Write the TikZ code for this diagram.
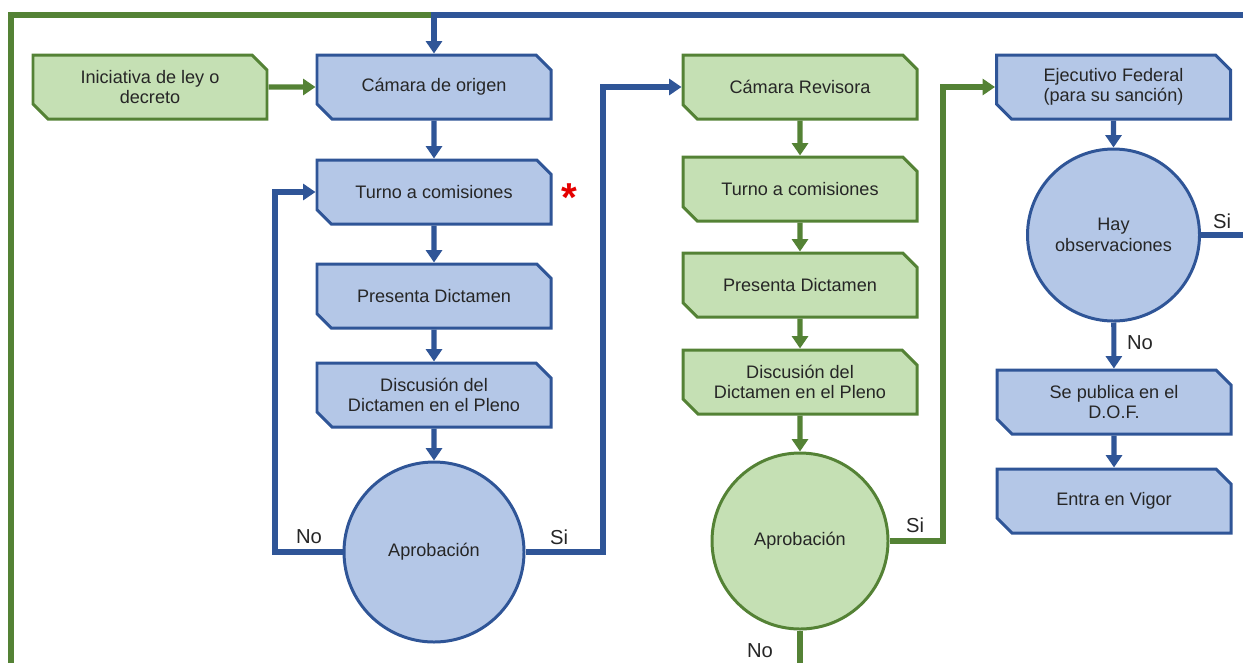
\documentclass[tikz,border=0pt]{standalone}
\usepackage{fontspec}
\setmainfont{Liberation Sans}
\usetikzlibrary{shapes.misc}
\usetikzlibrary{arrows.meta}
\definecolor{bfill}{RGB}{180,199,231}
\definecolor{bdraw}{RGB}{47,85,151}
\definecolor{gfill}{RGB}{197,224,180}
\definecolor{gdraw}{RGB}{84,130,53}
\tikzset{
  txt/.style={font=\fontsize{10.3}{11.6}\selectfont, text=black!85, align=center},
  box/.style={txt, chamfered rectangle, chamfered rectangle corners={north east,south west},
    chamfered rectangle xsep=0.15cm, chamfered rectangle ysep=0.15cm,
    minimum width=4.68cm, minimum height=1.28cm, inner sep=0pt, line width=1.7pt},
  bbox/.style={box, draw=bdraw, fill=bfill},
  gbox/.style={box, draw=gdraw, fill=gfill},
  bcirc/.style={txt, circle, inner sep=0pt, line width=1.7pt, draw=bdraw, fill=bfill},
  gcirc/.style={txt, circle, inner sep=0pt, line width=1.7pt, draw=gdraw, fill=gfill},
  bline/.style={draw=bdraw, line width=2.9pt},
  gline/.style={draw=gdraw, line width=2.9pt},
  barrow/.style={bline, -{Triangle[width=9pt,length=7pt]}},
  garrow/.style={gline, -{Triangle[width=9pt,length=7pt]}},
  lbl/.style={txt, font=\fontsize{11.5}{12}\selectfont}
}
\begin{document}
\begin{tikzpicture}
            \useasboundingbox (0,0) rectangle (24.86,-13.24);
            \clip (0,0) rectangle (24.86,-13.24);
            % first chamber (blue)
            \node[gbox] (ini) at (3.00,-1.74) {Iniciativa de ley o\\decreto};
            \node[bbox] (co) at (8.68,-1.74) {Cámara de origen};
            \node[bbox] (turnoA) at (8.68,-3.84) {Turno a comisiones};
            \node[bbox] (dictA) at (8.68,-5.92) {Presenta Dictamen};
            \node[bbox] (discA) at (8.68,-7.90) {Discusión del\\Dictamen en el Pleno};
            \node[bcirc, minimum size=3.6cm] (aprA) at (8.68,-11.04) {Aprobación};
            \node[text=red!90!black, font=\fontsize{23}{23}\selectfont\bfseries] (ast) at (11.38,-3.96) {*};
            % second chamber (green)
            \node[gbox] (cr) at (16.00,-1.74) {Cámara Revisora};
            \node[gbox] (turnoB) at (16.00,-3.78) {Turno a comisiones};
            \node[gbox] (dictB) at (16.00,-5.70) {Presenta Dictamen};
            \node[gbox] (discB) at (16.00,-7.64) {Discusión del\\Dictamen en el Pleno};
            \node[gcirc, minimum size=3.52cm] (aprB) at (16.00,-10.82) {Aprobación};
            % executive (blue)
            \node[bbox] (ejec) at (22.27,-1.74) {Ejecutivo Federal\\(para su sanción)};
            \node[bcirc, minimum size=3.44cm] (hay) at (22.27,-4.70) {Hay\\observaciones};
            \node[bbox] (pub) at (22.28,-8.04) {Se publica en el\\D.O.F.};
            \node[bbox] (vigor) at (22.28,-10.02) {Entra en Vigor};
            \coordinate (top) at (8.68,-0.30);
            % return lines
            \draw[gline] (aprB.south) -- (16.00,-13.60) -| (0.22,-0.30) -- (top);
            \draw[barrow] (hay.east) -- (25.10,-4.70) |- (top) -- (co.north);
            % flow
            \draw[garrow] (ini) -- (co);
            \draw[barrow] (co) -- (turnoA);
            \draw[barrow] (turnoA) -- (dictA);
            \draw[barrow] (dictA) -- (discA);
            \draw[barrow] (discA) -- (aprA);
            \draw[barrow] (aprA.west) -- (5.50,-11.04) |- (turnoA.west);
            \draw[barrow] (aprA.east) -- (12.06,-11.04) |- (cr.west);
            \draw[garrow] (cr) -- (turnoB);
            \draw[garrow] (turnoB) -- (dictB);
            \draw[garrow] (dictB) -- (discB);
            \draw[garrow] (discB) -- (aprB);
            \draw[garrow] (aprB.east) -- (18.86,-10.82) |- (ejec.west);
            \draw[barrow] (ejec) -- (hay);
            \draw[barrow] (hay) -- (pub);
            \draw[barrow] (pub) -- (vigor);
            % labels
            \node[lbl] (noA) at (6.18,-10.74) {No};
            \node[lbl] (siA) at (11.18,-10.74) {Si};
            \node[lbl] (siB) at (18.30,-10.50) {Si};
            \node[lbl] (noB) at (15.20,-13.02) {No};
            \node[lbl] (siC) at (24.44,-4.42) {Si};
            \node[lbl] (noC) at (22.80,-6.86) {No};
        \end{tikzpicture}
\end{document}
